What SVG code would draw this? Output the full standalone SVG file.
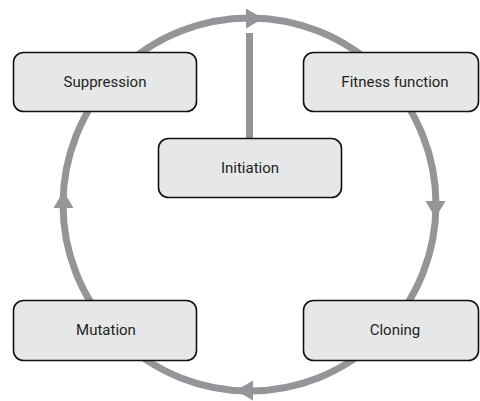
<svg xmlns="http://www.w3.org/2000/svg" width="480" height="401" viewBox="0 0 480 401">
<style>
.c{fill:none;stroke:#939598;stroke-width:7}
.a{fill:#939598}
.b{fill:#e6e7e8;stroke:#111;stroke-width:1.6}
.t{font-family:Roboto,"DejaVu Sans",sans-serif;font-size:15px;fill:#231f20;text-anchor:middle;dominant-baseline:central}
</style>
<rect width="480" height="401" fill="#fff"/>
<g id="connectors">
<circle class="c" cx="249.5" cy="204.5" r="186.5"/>
<line class="c" x1="249.5" y1="33" x2="249.5" y2="140"/>
<polygon id="ah" class="a" points="263,18.5 246,8.5 246,28.5"/>
<use href="#ah" transform="rotate(90 249.5 204.5)"/>
<use href="#ah" transform="rotate(180 249.5 204.5)"/>
<use href="#ah" transform="rotate(270 249.5 204.5)"/>
</g>
<g id="suppression"><rect class="b" x="13.5" y="52.5" width="183" height="59" rx="10"/><text class="t" x="105" y="82">Suppression</text></g>
<g id="fitness"><rect class="b" x="303.5" y="52.5" width="175" height="59" rx="10"/><text class="t" x="395" y="82">Fitness function</text></g>
<g id="initiation"><rect class="b" x="158.5" y="138.5" width="183" height="59" rx="10"/><text class="t" x="250" y="168">Initiation</text></g>
<g id="mutation"><rect class="b" x="13.5" y="300.5" width="183" height="60" rx="10"/><text class="t" x="106" y="330">Mutation</text></g>
<g id="cloning"><rect class="b" x="303.5" y="300.5" width="175" height="60" rx="10"/><text class="t" x="395" y="330">Cloning</text></g>
</svg>
